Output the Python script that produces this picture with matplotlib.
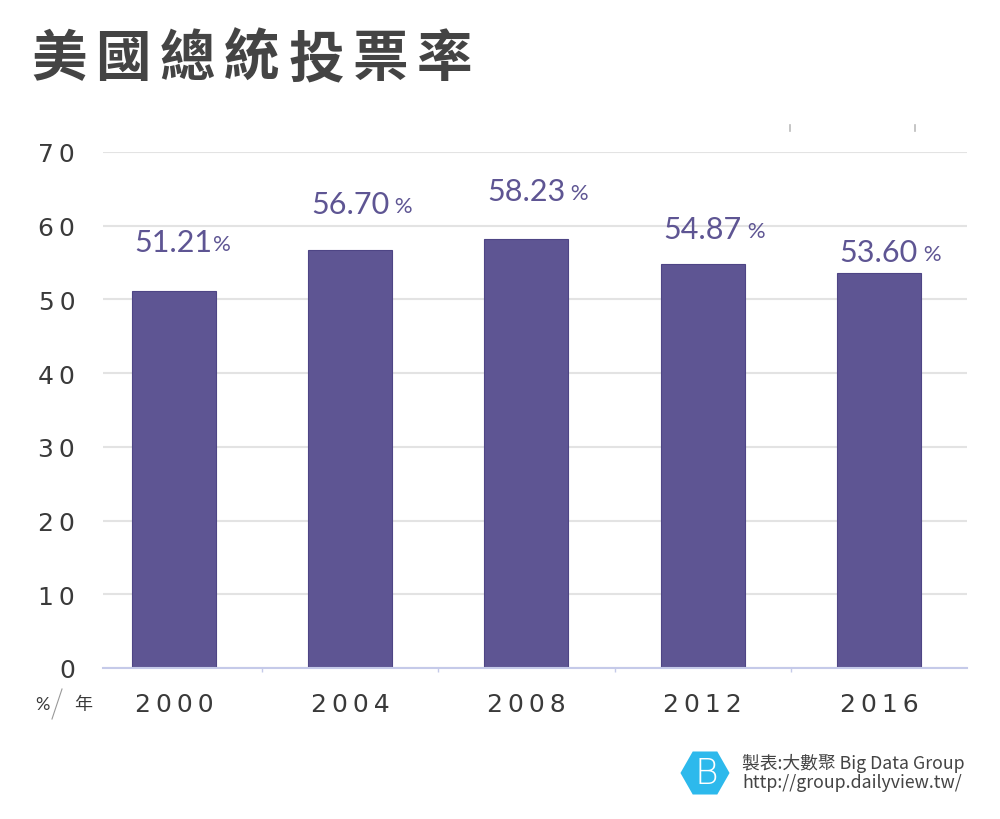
import matplotlib
matplotlib.use("Agg")
import matplotlib.pyplot as plt
from matplotlib.patches import RegularPolygon
from matplotlib.lines import Line2D

years = ["2000", "2004", "2008", "2012", "2016"]
turnout = [51.21, 56.70, 58.23, 54.87, 53.60]
value_labels = ["51.21", "56.70", "58.23", "54.87", "53.60"]
pct_suffix = ["%", " %", " %", " %", " %"]
label_offsets = [6.6, 6.3, 6.5, 4.7, 2.8]
yticks = [0, 10, 20, 30, 40, 50, 60, 70]

bar_color = "#5e5593"
text_dark = "#3a3a3a"
grid_color = "#e3e3e3"
axis_color = "#c5cae9"
THIN = "\u2009"


def spaced(s):
    return THIN.join(list(s))


plt.rcParams['font.family'] = ['Noto Sans CJK TC', 'DejaVu Sans']

fig = plt.figure(figsize=(10, 8.2), dpi=100)
ax = fig.add_axes([0.103, 1 - 669 / 820, 0.864, (669 - 153) / 820])

x = list(range(len(years)))
width = 0.477
ax.bar(x, turnout, width=width, color=bar_color, edgecolor="#4e4585", linewidth=0.8, zorder=3)

ax.set_xlim(-0.403, 4.5)
ax.set_ylim(0, 70)
ax.set_yticks(yticks)
ax.set_yticklabels([spaced(str(t)) for t in yticks], fontsize=18, color=text_dark,
                   family=['DejaVu Sans'])
ax.tick_params(axis='y', length=0, pad=20)
ax.yaxis.grid(True, color=grid_color, linewidth=1.5, zorder=0)
ax.set_axisbelow(True)

ax.set_xticks([i + 0.5 for i in x[:-1]])
ax.set_xticklabels([])
ax.tick_params(axis='x', length=3, color=axis_color, width=1)

for s in ["top", "right", "left"]:
    ax.spines[s].set_visible(False)
ax.spines["bottom"].set_color(axis_color)
ax.spines["bottom"].set_linewidth(1.5)
ax.spines["bottom"].set_zorder(4)

# year labels
for i, yr in enumerate(years):
    ax.text(i, -3.3, spaced(yr), ha='center', va='top', fontsize=18,
            color=text_dark, family=['DejaVu Sans'])

fig.canvas.draw()
renderer = fig.canvas.get_renderer()
inv = ax.transData.inverted()
for i, (lab, suf, off, v) in enumerate(zip(value_labels, pct_suffix, label_offsets, turnout)):
    t = ax.text(i - width / 2 + 0.015, v + off, lab, ha='left', va='center', fontsize=22,
                color=bar_color, family=['Lato', 'DejaVu Sans'])
    bb = t.get_window_extent(renderer)
    xe = inv.transform((bb.x1, bb.y0))[0]
    ax.text(xe, v + off - 0.3, suf, ha='left', va='center', fontsize=16,
            color=bar_color, family=['Lato', 'DejaVu Sans'])

# title with spaced characters
title = "美國總統投票率"
for k, ch in enumerate(title):
    fig.text((59 + k * 64.3) / 1000, 1 - 60 / 820, ch, ha='center', va='center',
             fontsize=40, fontweight='heavy', color="#444444", family=['Noto Sans CJK TC'])

# unit label
fig.text(42 / 1000, 1 - 705 / 820, "%", ha='center', va='center', fontsize=13, color=text_dark,
         family=['Lato', 'DejaVu Sans'])
fig.text(83 / 1000, 1 - 705 / 820, "年", ha='center', va='center', fontsize=13, color=text_dark)
fig.add_artist(Line2D([62 / 1000, 52 / 1000], [1 - 690 / 820, 1 - 720 / 820],
                      transform=fig.transFigure, color="#999999", linewidth=0.8))

# small marks near top
for px in [790, 915]:
    fig.add_artist(Line2D([px / 1000, px / 1000], [1 - 126 / 820, 1 - 132 / 820],
                          transform=fig.transFigure, color="#bbbbbb", linewidth=1.2))

# logo
logo_ax = fig.add_axes([680 / 1000, 1 - 797 / 820, 50 / 1000, 46 / 820])
logo_ax.set_xlim(-1.1, 1.1)
logo_ax.set_ylim(-1.0, 1.0)
logo_ax.axis('off')
logo_ax.add_patch(RegularPolygon((0, 0), numVertices=6, radius=1.08, orientation=0.5236,
                                 facecolor="#2db9ec", edgecolor="none"))
logo_ax.text(0.05, 0.0, "B", ha='center', va='center', fontsize=26, color="white",
             family=['DejaVu Sans'], fontweight='light')

fig.text(742 / 1000, 1 - 763 / 820, "製表:大數聚 Big Data Group", ha='left', va='center',
         fontsize=12.8, color="#444444", family=['Noto Sans CJK TC', 'DejaVu Sans'])
fig.text(742 / 1000, 1 - 783 / 820, "http://group.dailyview.tw/", ha='left', va='center',
         fontsize=12.8, color="#444444", family=['Noto Sans CJK TC', 'DejaVu Sans'])

fig.savefig("out.png", dpi=100, facecolor="white")
